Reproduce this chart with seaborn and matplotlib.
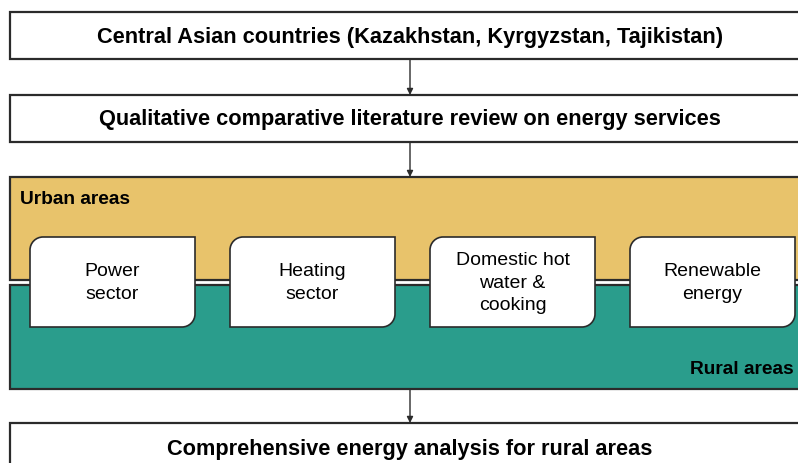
import matplotlib
matplotlib.use("Agg")
import matplotlib.pyplot as plt
import seaborn as sns
from matplotlib.patches import Rectangle, PathPatch
from matplotlib.path import Path

sns.set_theme(style="white")
plt.rcParams['font.family'] = ['Liberation Sans', 'DejaVu Sans']

# content
flow_titles = [
    "Central Asian countries (Kazakhstan, Kyrgyzstan, Tajikistan)",
    "Qualitative comparative literature review on energy services",
    "Comprehensive energy analysis for rural areas",
]
band_labels = ["Urban areas", "Rural areas"]
service_labels = ["Power\nsector", "Heating\nsector", "Domestic hot\nwater &\ncooking", "Renewable\nenergy"]

URBAN = "#E8C36B"
RURAL = "#2A9D8C"
EDGE = "#2b2b2b"

W, H = 798, 463
fig = plt.figure(figsize=(W / 100, H / 100), dpi=100)
ax = fig.add_axes([0, 0, 1, 1])
ax.set_xlim(0, W)
ax.set_ylim(H, 0)
ax.axis("off")

def box(x0, y0, x1, y1, fc="white", lw=1.6):
    ax.add_patch(Rectangle((x0, y0), x1 - x0, y1 - y0, fc=fc, ec=EDGE, lw=lw, zorder=1))

def arrow(x, y0, y1):
    ax.annotate("", xy=(x, y1), xytext=(x, y0),
                arrowprops=dict(arrowstyle="-|>", color=EDGE, lw=1.0,
                                mutation_scale=9, shrinkA=0, shrinkB=0), zorder=3)

def tab(x0, y0, x1, y1, r=13):
    # rounded top-left and bottom-right corners
    k = 0.5523 * r
    verts = [
        (x0 + r, y0), (x1, y0), (x1, y1 - r),
        (x1, y1 - r + k), (x1 - r + k, y1), (x1 - r, y1),
        (x0, y1), (x0, y0 + r),
        (x0, y0 + r - k), (x0 + r - k, y0), (x0 + r, y0),
        (x0 + r, y0),
    ]
    codes = [Path.MOVETO, Path.LINETO, Path.LINETO,
             Path.CURVE4, Path.CURVE4, Path.CURVE4,
             Path.LINETO, Path.LINETO,
             Path.CURVE4, Path.CURVE4, Path.CURVE4,
             Path.CLOSEPOLY]
    ax.add_patch(PathPatch(Path(verts, codes), fc="white", ec=EDGE, lw=1.2, zorder=4))

TITLE_FS = 15.7

# top boxes
box(10, 12, 805, 59)
ax.text(410, 37, flow_titles[0], ha="center", va="center", fontsize=TITLE_FS,
        fontweight="bold", color="black", zorder=5)
arrow(410, 59, 95)
box(10, 95, 805, 142)
ax.text(410, 120, flow_titles[1], ha="center", va="center", fontsize=TITLE_FS,
        fontweight="bold", color="black", zorder=5)
arrow(410, 142, 177)

# bands
box(10, 177, 805, 280, fc=URBAN)
box(10, 285, 805, 389, fc=RURAL)
ax.text(20, 199, band_labels[0], ha="left", va="center", fontsize=13.8,
        fontweight="bold", color="black", zorder=5)
ax.text(794, 369, band_labels[1], ha="right", va="center", fontsize=13.8,
        fontweight="bold", color="black", zorder=5)

# service tabs
for i, lab in enumerate(service_labels):
    x0 = 30 + i * 200
    tab(x0, 237, x0 + 165, 327)
    ax.text(x0 + 82.5, 283, lab, ha="center", va="center", fontsize=14,
            color="black", linespacing=1.42, zorder=5)

arrow(410, 389, 423)
box(10, 423, 805, 480)
ax.text(410, 449, flow_titles[2], ha="center", va="center", fontsize=TITLE_FS,
        fontweight="bold", color="black", zorder=5)

fig.savefig("out.png", dpi=100)
